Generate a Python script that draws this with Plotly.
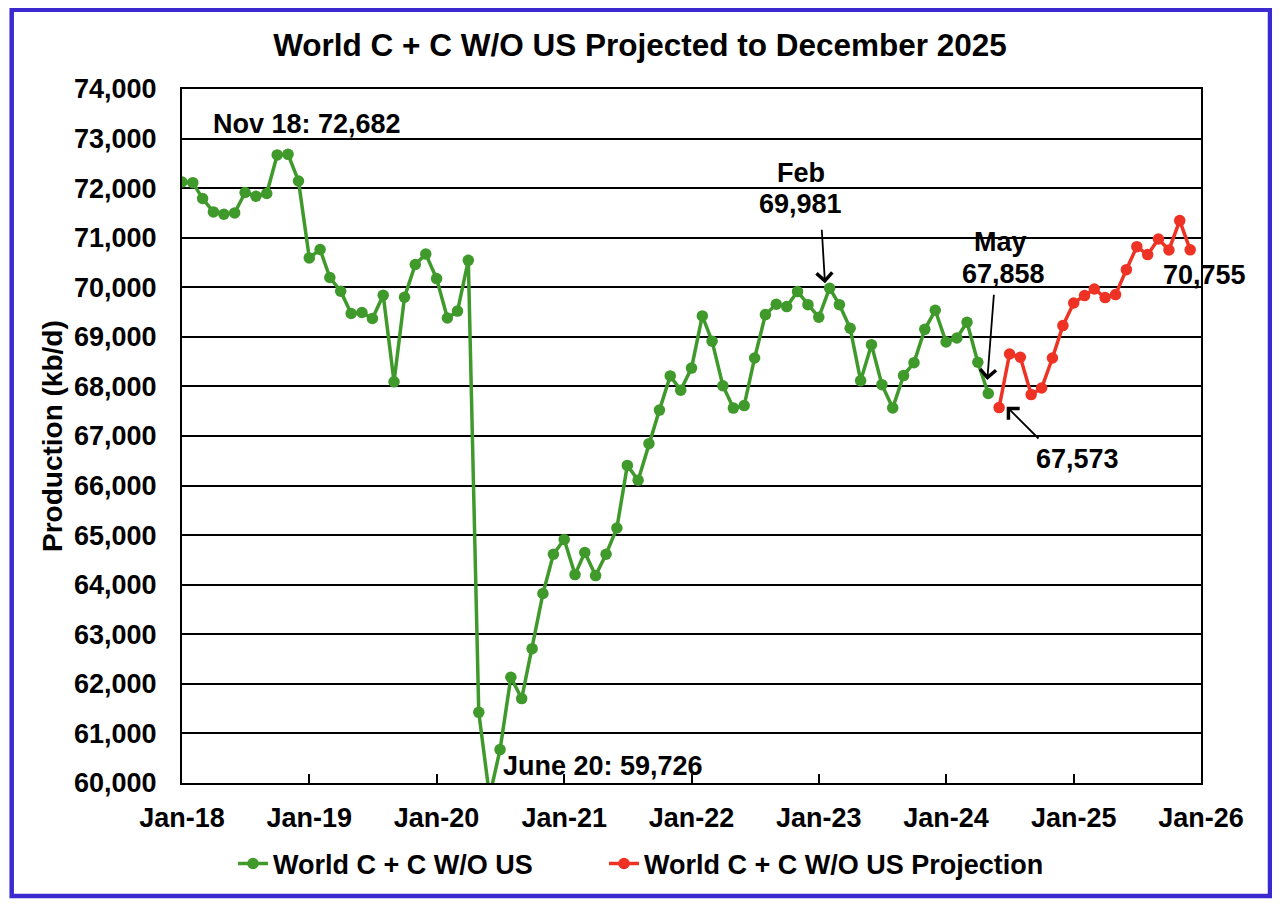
import pandas as pd
import plotly.graph_objects as go

# ---------------- data ----------------
hist_start = "2018-01-01"
hist_values = [
    72125, 72110, 71790, 71520, 71474, 71500, 71911, 71837, 71891, 72670, 72682, 72145,  # 2018
    70593, 70762, 70197, 69921, 69471, 69491, 69370, 69840, 68093, 69800, 70460, 70670,  # 2019
    70175, 69380, 69520, 70544, 61425, 59726, 60674, 62133, 61703, 62710, 63822, 64614,  # 2020
    64913, 64204, 64649, 64184, 64614, 65143, 66407, 66108, 66845, 67522, 68212, 67925,  # 2021
    68370, 69422, 68913, 68014, 67563, 67613, 68574, 69449, 69657, 69610, 69913, 69650,  # 2022
    69395, 69981, 69650, 69173, 68117, 68843, 68036, 67566, 68218, 68480, 69152, 69536,  # 2023
    68897, 68978, 69294, 68487, 67858,                                                    # 2024 Jan-May
]
proj_start = "2024-06-01"
proj_values = [
    67573, 68655, 68588, 67835, 67969, 68574, 69227,                                      # 2024 Jun-Dec
    69684, 69832, 69966, 69792, 69852, 70356, 70820, 70659, 70975, 70753, 71345, 70755,  # 2025
]
hist_name = "World C + C W/O US"
proj_name = "World C + C W/O US Projection"
title_text = "World C + C W/O US Projected to December 2025"
y_title = "Production (kb/d)"
x_range = ["2018-01-01", "2026-01-01"]
y_range = [60000, 74000]

hist_dates = pd.date_range(hist_start, periods=len(hist_values), freq="MS")
proj_dates = pd.date_range(proj_start, periods=len(proj_values), freq="MS")

# ---------------- styling ----------------
FONT = "Liberation Sans, Arial, Helvetica, sans-serif"
GREEN = "#3F9A2B"
RED = "#EE3325"
BLUE = "#3A2AD0"
OFF = 8  # page body margin offset
W, H = 1280 - OFF, 911 - OFF
PLOT_L, PLOT_R, PLOT_T, PLOT_B = 182, 1201, 89, 783  # reference pixel bounds of plot area
L, T = PLOT_L - OFF, PLOT_T - OFF
R = W - (PLOT_R - OFF)
B = H - (PLOT_B - OFF)
PW, PH = PLOT_R - PLOT_L, PLOT_B - PLOT_T


def px_x(p):
    return (p - PLOT_L) / PW


def px_y(p):
    return (PLOT_B - p) / PH


fig = go.Figure()
fig.add_trace(go.Scatter(
    x=hist_dates, y=hist_values, name=hist_name, mode="lines+markers",
    line=dict(color=GREEN, width=3.5), marker=dict(color=GREEN, size=11.5),
    legendwidth=326,
))
fig.add_trace(go.Scatter(
    x=proj_dates, y=proj_values, name=proj_name, mode="lines+markers",
    line=dict(color=RED, width=3.5), marker=dict(color=RED, size=11.5),
    legendwidth=430,
))

afont = dict(family=FONT, size=27, color="black", weight="bold")
annotations = []


def text_ann(text, px, py, anchor="center"):
    annotations.append(dict(
        text=text, xref="paper", yref="paper", x=px_x(px), y=px_y(py),
        xanchor=anchor, yanchor="middle", showarrow=False, font=afont,
    ))


def arrow_ann(tail, head):
    annotations.append(dict(
        text="", xref="paper", yref="paper", x=px_x(head[0]), y=px_y(head[1]),
        ax=tail[0] - head[0], ay=tail[1] - head[1], showarrow=True,
        arrowhead=4, arrowsize=1.7, arrowwidth=1.8, arrowcolor="black", standoff=0,
    ))


text_ann("Nov 18: 72,682", 210.7, 123.5, "left")
text_ann("June 20: 59,726", 501.4, 766, "left")
text_ann("Feb", 800.5, 173)
text_ann("69,981", 800.5, 204)
text_ann("May", 1000, 242)
text_ann("67,858", 1003.3, 273.5)
text_ann("67,573", 1077.5, 458.5)
text_ann("70,755", 1204, 275)
arrow_ann((821.7, 228.3), (825, 283.3))
arrow_ann((994, 293.3), (987.3, 380))
arrow_ann((1040, 440), (1006.7, 406.7))

# y-axis title
annotations.append(dict(
    text=y_title, xref="paper", yref="paper", x=px_x(52), y=0.5,
    xanchor="center", yanchor="middle", textangle=-90, showarrow=False,
    font=dict(family=FONT, size=28, color="black", weight="bold"),
))

shapes = [
    # outer blue frame
    dict(type="rect", xref="paper", yref="paper",
         x0=px_x(11.7), x1=px_x(1270), y0=px_y(896), y1=px_y(9.8),
         line=dict(color=BLUE, width=4.5), fillcolor="rgba(0,0,0,0)", layer="above"),
]

fig.update_layout(
    width=W, height=H,
    margin=dict(l=L, r=R, t=T, b=B, pad=0),
    paper_bgcolor="white", plot_bgcolor="white",
    font=dict(family=FONT, size=27, color="black", weight="bold"),
    title=dict(text=title_text, x=(640 - OFF) / W, xanchor="center", xref="container",
               y=1 - (45 - OFF) / H, yanchor="middle", yref="container",
               font=dict(family=FONT, size=31.5, color="black", weight="bold")),
    showlegend=True,
    legend=dict(orientation="h", x=px_x(233), xanchor="left", y=px_y(864), yanchor="middle",
                font=dict(family=FONT, size=27, color="black", weight="bold"),
                bgcolor="rgba(0,0,0,0)", itemclick=False),
    annotations=annotations,
    shapes=shapes,
)

fig.update_xaxes(
    type="date", range=x_range, dtick="M12", tick0="2018-01-01", tickformat="%b-%y",
    showgrid=False, zeroline=False,
    showline=True, linecolor="black", linewidth=2, mirror=True,
    ticks="inside", ticklen=9, tickwidth=1.5, tickcolor="black",
    ticklabelstandoff=10,
    tickfont=dict(family=FONT, size=27, color="black", weight="bold"),
)
fig.update_yaxes(
    range=y_range, dtick=1000, tickformat=",d",
    showgrid=True, gridcolor="black", gridwidth=1.5, zeroline=False,
    showline=True, linecolor="black", linewidth=2, mirror=True,
    ticks="", ticklabelstandoff=18,
    tickfont=dict(family=FONT, size=27, color="black", weight="bold"),
)

fig.write_html("out.html")
